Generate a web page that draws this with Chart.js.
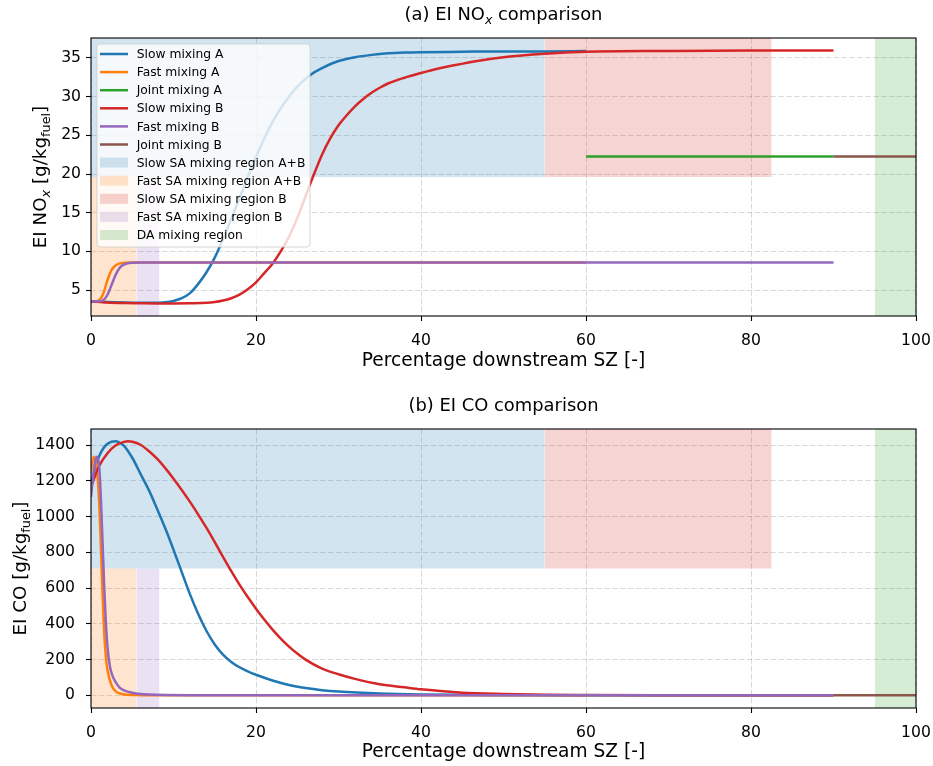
<!DOCTYPE html>
<html>
<head>
<meta charset="utf-8">
<script src="https://cdn.jsdelivr.net/npm/chart.js@4/dist/chart.umd.min.js"></script>
<style>
  body { margin: 0; background: #fff; width: 933px; height: 766px; overflow: hidden; }
  canvas { position: absolute; left: 0; }
  #noxChart { top: 0; }
  #coChart { top: 391px; }
</style>
</head>
<body>
<canvas id="noxChart" width="933" height="375"></canvas>
<canvas id="coChart" width="933" height="375"></canvas>
<script>
// ---- (a) EI NOx ----
const noxSlowAX = [0, 2, 4, 6, 8, 9, 10, 11, 12, 13, 14, 15, 16, 17, 18, 19, 20, 21, 22, 23, 24, 25, 26, 27, 28, 30, 32, 34, 36, 38, 40, 45, 50, 55, 60];
const noxSlowAY = [3.55, 3.45, 3.38, 3.35, 3.37, 3.42, 3.6, 3.95, 4.6, 5.8, 7.3, 9.2, 11.6, 14.2, 16.9, 19.6, 22.2, 24.6, 26.7, 28.5, 30.0, 31.3, 32.3, 33.1, 33.7, 34.6, 35.1, 35.4, 35.6, 35.7, 35.75, 35.8, 35.85, 35.85, 35.9];
const noxFastAX = [0, 0.5, 1, 1.5, 2, 2.5, 3, 3.5, 4, 5, 10, 60];
const noxFastAY = [3.55, 3.56, 3.7, 4.6, 6.3, 7.6, 8.2, 8.45, 8.52, 8.55, 8.55, 8.55];
const noxJointAX = [60, 90];
const noxJointAY = [22.25, 22.25];
const noxSlowBX = [0, 2, 4, 6, 8, 10, 12, 14, 15, 16, 17, 18, 19, 20, 21, 22, 23, 24, 25, 26, 27, 28, 29, 30, 31, 32, 33, 34, 35, 36, 38, 40, 42, 44, 47, 50, 55, 60, 70, 80, 90];
const noxSlowBY = [3.55, 3.4, 3.33, 3.3, 3.28, 3.28, 3.3, 3.35, 3.45, 3.65, 3.95, 4.4, 5.1, 6.0, 7.2, 8.4, 10.0, 11.9, 14.3, 17.1, 19.9, 22.5, 24.6, 26.3, 27.6, 28.75, 29.7, 30.5, 31.15, 31.7, 32.45, 33.05, 33.6, 34.05, 34.65, 35.1, 35.55, 35.8, 35.9, 35.95, 35.95];
const noxFastBX = [0, 1, 1.5, 2, 2.5, 3, 3.5, 4, 4.5, 5, 6, 90];
const noxFastBY = [3.55, 3.56, 3.7, 4.4, 5.7, 7.0, 7.9, 8.3, 8.48, 8.53, 8.55, 8.55];
const noxJointBX = [90, 100];
const noxJointBY = [22.25, 22.25];
const noxYTicks = [5, 10, 15, 20, 25, 30, 35];

// ---- (b) EI CO ----
const coSlowAX = [0, 0.5, 1, 1.5, 2, 2.5, 3, 3.5, 4, 5, 6, 7, 8, 9, 10, 11, 12, 13, 14, 15, 16, 17, 18, 19, 20, 22, 24, 26, 28, 30, 35, 40, 50, 60];
const coSlowAY = [1185, 1270, 1340, 1383, 1408, 1420, 1422, 1413, 1397, 1330, 1240, 1150, 1045, 935, 815, 690, 565, 455, 360, 285, 228, 187, 157, 134, 115, 83, 58, 41, 29, 21, 10, 5, 1.5, 0.5];
const coFastAX = [0, 0.2, 0.4, 0.6, 0.8, 1.0, 1.2, 1.4, 1.6, 1.8, 2.0, 2.5, 3, 3.5, 4.5, 6, 8, 10, 60];
const coFastAY = [1255, 1315, 1335, 1300, 1220, 1080, 830, 570, 350, 215, 140, 55, 22, 10, 3, 1, 0.3, 0, 0];
const coJointAX = [60, 90];
const coJointAY = [0, 0];
const coSlowBX = [0, 1, 2, 3, 4, 4.5, 5, 6, 7, 8, 9, 10, 11, 12, 13, 14, 15, 16, 17, 18, 19, 20, 21, 22, 23, 24, 25, 26, 28, 30, 32, 35, 38, 40, 45, 50, 55, 60, 70, 80, 90];
const coSlowBY = [1167, 1285, 1355, 1400, 1419, 1422, 1420, 1403, 1368, 1325, 1272, 1213, 1150, 1083, 1012, 937, 858, 775, 695, 620, 550, 485, 424, 368, 318, 273, 234, 200, 150, 118, 92, 62, 45, 34, 15, 7.5, 3, 1.5, 0.5, 0.2, 0.1];
const coFastBX = [0, 0.2, 0.4, 0.6, 0.7, 0.8, 1.0, 1.2, 1.4, 1.6, 1.8, 2.0, 2.3, 2.6, 3.0, 3.5, 4, 5, 6, 7, 9, 12, 90];
const coFastBY = [1111, 1200, 1280, 1325, 1335, 1330, 1280, 1100, 860, 610, 410, 270, 160, 110, 72, 42, 28, 14, 7, 4, 1.5, 0.3, 0];
const coJointBX = [90, 100];
const coJointBY = [0, 0];
const coYTicks = [0, 200, 400, 600, 800, 1000, 1200, 1400];

// mixing regions (x start, x end) and which half of the axes they cover
const regionLabels = ['Slow SA mixing region A+B', 'Fast SA mixing region A+B', 'Slow SA mixing region B', 'Fast SA mixing region B', 'DA mixing region'];
const regionStart = [0, 0, 55, 5.5, 95];
const regionEnd = [55, 5.5, 82.5, 8.3, 100];
const regionHalf = ['upper', 'lower', 'upper', 'lower', 'full'];

const seriesLabels = ['Slow mixing A', 'Fast mixing A', 'Joint mixing A', 'Slow mixing B', 'Fast mixing B', 'Joint mixing B'];
const xTicks = [0, 20, 40, 60, 80, 100];

Chart.defaults.font.family = "'DejaVu Sans', sans-serif";
Chart.defaults.color = '#000';

const lineColors = ['#1f77b4', '#ff7f0e', '#2ca02c', '#d62728', '#9467bd', '#8c564b'];
const regionColors = ['#1f77b4', '#ff7f0e', '#d62728', '#9467bd', '#2ca02c'];

function rgba(hex, a) {
  const n = parseInt(hex.slice(1), 16);
  return `rgba(${n >> 16},${(n >> 8) & 255},${n & 255},${a})`;
}
const pts = (xs, ys) => xs.map((x, i) => ({ x, y: ys[i] }));

function buildDatasets(series, yMin, yMax) {
  const sets = series.map((s, i) => ({
    kind: 'line',
    label: seriesLabels[i],
    data: pts(s[0], s[1]),
    borderColor: lineColors[i],
    backgroundColor: lineColors[i],
    borderWidth: 2.5,
    pointRadius: 0,
    cubicInterpolationMode: 'monotone',
    fill: false,
    order: 10 - i
  }));
  const mid = (yMin + yMax) / 2;
  regionLabels.forEach((lab, i) => {
    const h = regionHalf[i];
    const y = h === 'full' ? yMax : mid;
    sets.push({
      kind: 'patch',
      label: lab,
      data: [{ x: regionStart[i], y }, { x: regionEnd[i], y }],
      borderColor: 'rgba(0,0,0,0)',
      borderWidth: 0,
      backgroundColor: rgba(regionColors[i], 0.2),
      pointRadius: 0,
      fill: h === 'upper' ? 'end' : 'start',
      order: 50
    });
  });
  return sets;
}

// text with sub-scripts (mathtext look)
function drawRich(ctx, parts, cx, cy, size, angle) {
  const fontOf = p => `${p.it ? 'italic ' : ''}${p.sub ? size * 0.7 : size}px 'DejaVu Sans'`;
  ctx.save();
  ctx.translate(cx, cy);
  ctx.rotate(angle);
  ctx.fillStyle = '#000';
  ctx.textAlign = 'left';
  ctx.textBaseline = 'alphabetic';
  let w = 0;
  parts.forEach(p => { ctx.font = fontOf(p); w += ctx.measureText(p.t).width; });
  let x = -w / 2;
  parts.forEach(p => {
    ctx.font = fontOf(p);
    ctx.fillText(p.t, x, size * 0.36 + (p.sub ? size * 0.22 : 0));
    x += ctx.measureText(p.t).width;
  });
  ctx.restore();
}

const decorPlugin = {
  id: 'decor',
  afterDraw(chart, args, opts) {
    const { ctx, chartArea: a } = chart;
    ctx.save();
    ctx.strokeStyle = '#000';
    ctx.lineWidth = 1.1;
    ctx.strokeRect(a.left, a.top, a.right - a.left, a.bottom - a.top);
    ctx.restore();

    if (opts.legend) {
      const items = chart.data.datasets;
      const bx = a.left + 6, by = a.top + 6, bw = 213, bh = 203, step = 18.1;
      ctx.save();
      ctx.beginPath();
      ctx.roundRect(bx, by, bw, bh, 3);
      ctx.fillStyle = 'rgba(255,255,255,0.8)';
      ctx.fill();
      ctx.strokeStyle = 'rgba(204,204,204,0.8)';
      ctx.lineWidth = 1;
      ctx.stroke();
      ctx.font = "12.3px 'DejaVu Sans'";
      ctx.textBaseline = 'middle';
      ctx.textAlign = 'left';
      items.forEach((d, i) => {
        const yc = by + 10 + i * step;
        if (d.kind === 'line') {
          ctx.strokeStyle = d.borderColor;
          ctx.lineWidth = d.borderWidth;
          ctx.beginPath();
          ctx.moveTo(bx + 3, yc);
          ctx.lineTo(bx + 31, yc);
          ctx.stroke();
        } else {
          ctx.fillStyle = d.backgroundColor;
          ctx.fillRect(bx + 3, yc - 5, 28, 10);
        }
        ctx.fillStyle = '#000';
        ctx.fillText(d.label, bx + 39.7, yc + 1);
      });
      ctx.restore();
    }

    const midX = (a.left + a.right) / 2;
    drawRich(ctx, opts.title, midX, 13.5, 17.9, 0);
    drawRich(ctx, opts.yTitle, opts.yTitleX, (a.top + a.bottom) / 2, 18.3, -Math.PI / 2);
  }
};

function makeChart(id, series, yMin, yMax, yTicks, plotTop, plotBottom, yTickPad, decor) {
  const canvas = document.getElementById(id);
  const H = canvas.height;
  return new Chart(canvas, {
    type: 'line',
    data: { datasets: buildDatasets(series, yMin, yMax) },
    options: {
      responsive: false,
      animation: false,
      devicePixelRatio: 1,
      layout: { padding: { left: 0, right: 17, top: plotTop, bottom: 0 } },
      plugins: { legend: { display: false }, tooltip: { enabled: false }, decor },
      scales: {
        x: {
          type: 'linear',
          min: 0, max: 100,
          afterBuildTicks: s => { s.ticks = xTicks.map(v => ({ value: v })); },
          afterFit: s => { s.height = H - plotBottom; s.paddingLeft = 0; s.paddingRight = 0; },
          grid: { color: 'rgba(128,128,128,0.3)', lineWidth: 1, tickColor: '#000', tickLength: 5, tickWidth: 1.1 },
          border: { display: false, dash: [5.5, 2.4] },
          ticks: { font: { size: 15.6 }, padding: 11, maxRotation: 0, callback: v => String(v) },
          title: { display: true, text: 'Percentage downstream SZ [-]', font: { size: 18.6 }, padding: { top: 0, bottom: 3 } }
        },
        y: {
          min: yMin, max: yMax,
          afterBuildTicks: s => { s.ticks = yTicks.map(v => ({ value: v })); },
          afterFit: s => { s.width = 91; s.paddingTop = 0; s.paddingBottom = 0; },
          grid: { color: 'rgba(128,128,128,0.3)', lineWidth: 1, tickColor: '#000', tickLength: 5, tickWidth: 1.1 },
          border: { display: false, dash: [5.5, 2.4] },
          ticks: { font: { size: 15.6 }, padding: yTickPad, callback: v => String(v) }
        }
      }
    },
    plugins: [decorPlugin]
  });
}

makeChart('noxChart', [
  [noxSlowAX, noxSlowAY], [noxFastAX, noxFastAY], [noxJointAX, noxJointAY],
  [noxSlowBX, noxSlowBY], [noxFastBX, noxFastBY], [noxJointBX, noxJointBY]
], 1.65, 37.58, noxYTicks, 38, 316, 5, {
  legend: true,
  title: [{ t: '(a) EI NO' }, { t: 'x', sub: true, it: true }, { t: ' comparison' }],
  yTitle: [{ t: 'EI NO' }, { t: 'x', sub: true, it: true }, { t: ' [g/kg' }, { t: 'fuel', sub: true }, { t: ']' }],
  yTitleX: 39
});

makeChart('coChart', [
  [coSlowAX, coSlowAY], [coFastAX, coFastAY], [coJointAX, coJointAY],
  [coSlowBX, coSlowBY], [coFastBX, coFastBY], [coJointBX, coJointBY]
], -71, 1491, coYTicks, 38, 317, 11, {
  legend: false,
  title: [{ t: '(b) EI CO comparison' }],
  yTitle: [{ t: 'EI CO [g/kg' }, { t: 'fuel', sub: true }, { t: ']' }],
  yTitleX: 19.5
});
</script>
</body>
</html>
